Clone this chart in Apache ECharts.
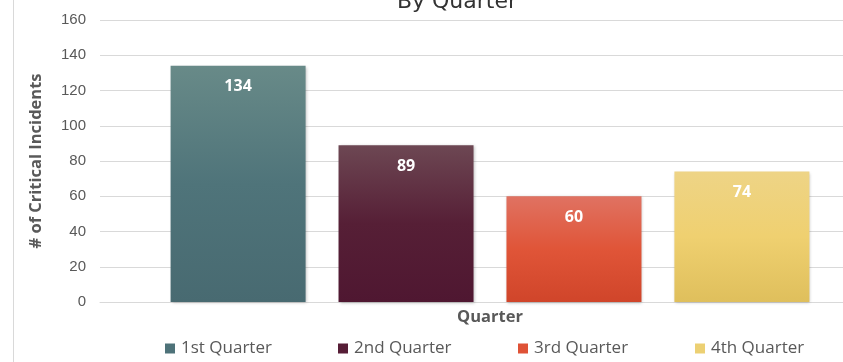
<!DOCTYPE html>
<html>
<head>
<meta charset="utf-8">
<script src="https://cdn.jsdelivr.net/npm/echarts@6/dist/echarts.min.js"></script>
<style>
html,body{margin:0;padding:0;background:#fff;}
#chart{width:843px;height:362px;}
</style>
</head>
<body>
<div id="chart"></div>
<script>
const titleText = 'By Quarter';
const categories = ['Quarter'];
const seriesNames = ['1st Quarter', '2nd Quarter', '3rd Quarter', '4th Quarter'];
const seriesValues = [134, 89, 60, 74];
const yAxisName = '# of Critical Incidents';
const yTicks = [0, 20, 40, 60, 80, 100, 120, 140, 160];

const gradients = [
  ['#688a88', '#4f747a', '#486a71'],
  ['#6d4753', '#561f36', '#4f1731'],
  ['#e07262', '#e05538', '#d0452a'],
  ['#eed486', '#efd070', '#dfbf5c']
];
const legendColors = ['#4e7279', '#561d36', '#df5236', '#ecd073'];
const legendLefts = [165, 338, 518, 695];

const chart = echarts.init(document.getElementById('chart'), null, {renderer: 'canvas'});

const series = seriesNames.map((name, i) => ({
  name: name,
  type: 'bar',
  data: [seriesValues[i]],
  barWidth: 135,
  barGap: '24.4%',
  itemStyle: {
    color: new echarts.graphic.LinearGradient(0, 0, 0, 1, [
      {offset: 0, color: gradients[i][0]},
      {offset: 0.5, color: gradients[i][1]},
      {offset: 1, color: gradients[i][2]}
    ]),
    shadowBlur: 3,
    shadowColor: 'rgba(0,0,0,0.25)',
    shadowOffsetX: 1,
    shadowOffsetY: 1
  },
  label: {
    show: true,
    position: 'insideTop',
    distance: 13,
    color: '#ffffff',
    fontFamily: 'Open Sans',
    fontWeight: 'bold',
    fontSize: 16
  },
  emphasis: {disabled: true}
}));

const legends = seriesNames.map((name, i) => ({
  data: [{name: name, itemStyle: {color: legendColors[i]}}],
  left: legendLefts[i],
  top: 340,
  padding: 0,
  itemWidth: 10,
  itemHeight: 10,
  itemGap: 6,
  icon: 'rect',
  selectedMode: false,
  textStyle: {
    fontFamily: 'Open Sans',
    fontSize: 17,
    color: '#595959',
    padding: [0, 0, 0, 1]
  }
}));

chart.setOption({
  animation: false,
  backgroundColor: '#ffffff',
  title: {
    text: titleText,
    left: 452,
    textAlign: 'center',
    top: -14,
    textStyle: {
      fontFamily: 'DejaVu Sans',
      fontWeight: 'normal',
      fontSize: 22,
      color: '#333333'
    }
  },
  graphic: [{
    type: 'line',
    shape: {x1: 13.5, y1: 0, x2: 13.5, y2: 362},
    style: {stroke: '#d9d9d9', lineWidth: 1}
  }],
  legend: legends,
  grid: {left: 100, top: 20, width: 780, height: 282, containLabel: false, outerBoundsMode: 'none'},
  xAxis: {
    type: 'category',
    data: categories,
    axisLine: {show: true, lineStyle: {color: '#d9d9d9', width: 1}},
    axisTick: {show: false},
    axisLabel: {
      margin: 7,
      fontFamily: 'Open Sans',
      fontWeight: 'bold',
      fontSize: 16.5,
      color: '#595959'
    },
    splitLine: {show: false}
  },
  yAxis: {
    type: 'value',
    min: yTicks[0],
    max: yTicks[yTicks.length - 1],
    interval: yTicks[1] - yTicks[0],
    name: yAxisName,
    nameLocation: 'middle',
    nameGap: 55,
    nameRotate: 90,
    nameTextStyle: {
      fontFamily: 'Open Sans',
      fontWeight: 'bold',
      fontSize: 16.5,
      color: '#595959'
    },
    axisLine: {show: false},
    axisTick: {show: false},
    axisLabel: {
      margin: 14,
      fontFamily: 'Liberation Sans',
      fontSize: 15,
      color: '#595959'
    },
    splitLine: {show: true, lineStyle: {color: '#d9d9d9', width: 1}}
  },
  series: series
});
</script>
</body>
</html>
